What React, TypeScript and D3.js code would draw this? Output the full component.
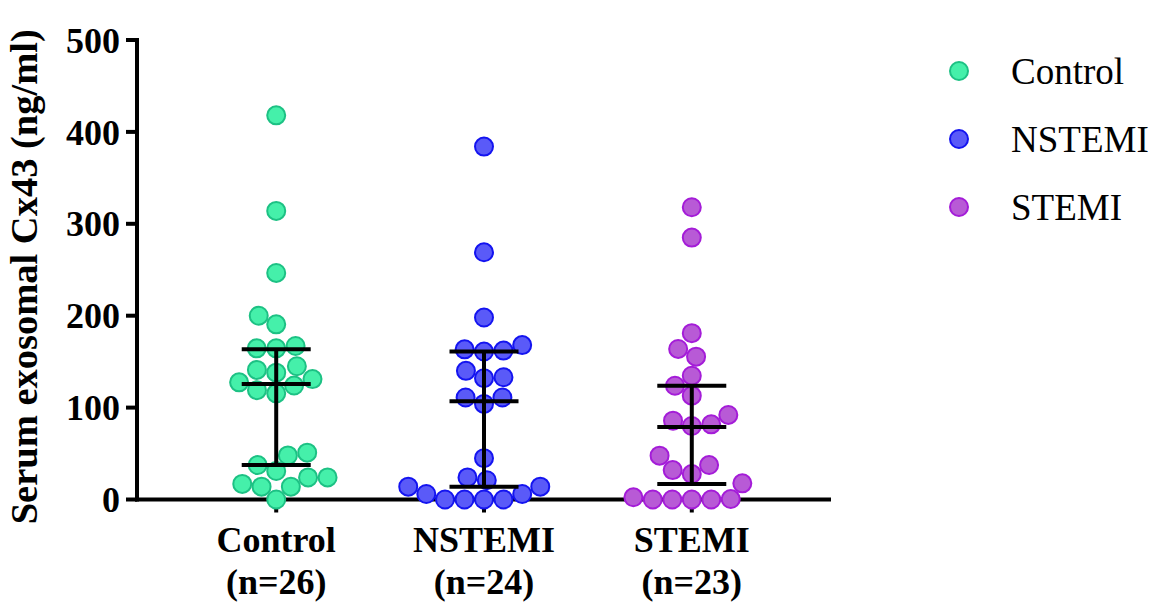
import React from "react"
import * as d3 from "d3"

// Groups and their sample-size labels
const groups = ["Control", "NSTEMI", "STEMI"]
const groupCounts = ["(n=26)", "(n=24)", "(n=23)"]

// Serum exosomal Cx43 values (ng/ml)
const controlValues = [
  418, 314, 246.5, 200, 190.6, 164.5, 164.5, 167, 141, 145, 138, 131, 124, 127.5, 115.5, 119, 51, 48, 37.5, 31,
  24, 24, 14, 14, 17, 0,
]
const nstemiValues = [
  384, 269, 198, 163.4, 161, 162, 168, 140, 133, 132, 111, 104, 111, 45, 21, 24, 14, 14, 6, 6, 0, 0, 0, 0,
]
const stemiValues = [
  318, 285, 181, 155.4, 163.8, 134.7, 123.8, 113, 85.8, 92, 80, 81.8, 37.5, 47.7, 32, 27.7, 17.6, 0.5, 0, 0, 0, 0,
  2.4,
]

// median with interquartile range
const medianValues = [125.7, 107, 79]
const q1Values = [37.5, 14, 17]
const q3Values = [163.5, 161, 123.8]

const yTicks = [0, 100, 200, 300, 400, 500]

const fills = ["#45F0AA", "#5A5AF8", "#B85AD6"]
const strokes = ["#1DC184", "#1414F0", "#A41CD8"]

const width = 1157
const height = 605
const font = "'Liberation Serif', 'Times New Roman', serif"

// greedy beeswarm, lowest values first, each point as close to the centre as it fits
function swarm(values: number[], y: (v: number) => number, d: number) {
  const order = values.map((v, i) => i).sort((a, b) => values[a] - values[b])
  const placed: { x: number; y: number }[] = []
  const out: { x: number; y: number; v: number }[] = new Array(values.length)
  let flip = 1
  for (const i of order) {
    const py = y(values[i])
    const blocks: [number, number][] = []
    for (const p of placed) {
      const dy = Math.abs(p.y - py)
      if (dy < d) {
        const w = Math.sqrt(d * d - dy * dy)
        blocks.push([p.x - w, p.x + w])
      }
    }
    const cands = [0]
    blocks.forEach(([a, b]) => cands.push(a, b))
    const ok = cands.filter((c) => blocks.every(([a, b]) => c <= a + 1e-6 || c >= b - 1e-6))
    ok.sort((a, b) => Math.abs(a) - Math.abs(b) || (a - b) * flip)
    const px = ok[0]
    if (px !== 0) flip = -flip
    placed.push({ x: px, y: py })
    out[i] = { x: px, y: py, v: values[i] }
  }
  return out
}

export default function App() {
  const margin = { left: 137, top: 40, bottom: 499.5, right: 831 }
  const x = d3.scalePoint<string>().domain(groups).range([margin.left, margin.right]).padding(0.67)
  const y = d3.scaleLinear().domain([0, 500]).range([margin.bottom, margin.top])

  const series = [controlValues, nstemiValues, stemiValues]
  const r = 9
  const capHalf = 34.5

  return (
    <svg
      width={width}
      height={height}
      style={{ position: "absolute", left: 0, top: 0, background: "#fff" }}
      fontFamily={font}
    >
      {/* y axis */}
      <line x1={margin.left} x2={margin.left} y1={y(500) - 2} y2={y(0) + 2} stroke="#000" strokeWidth={4} />
      {yTicks.map((t) => (
        <g key={t}>
          <line x1={margin.left - 11} x2={margin.left} y1={y(t)} y2={y(t)} stroke="#000" strokeWidth={4} />
          <text
            x={margin.left - 17}
            y={y(t)}
            dy="0.35em"
            textAnchor="end"
            fontWeight="bold"
            fontSize={36}
          >
            {t}
          </text>
        </g>
      ))}
      <text
        transform={`translate(37, ${(y(0) + y(500)) / 2 + 7}) rotate(-90)`}
        textAnchor="middle"
        fontWeight="bold"
        fontSize={38.5}
      >
        Serum exosomal Cx43 (ng/ml)
      </text>

      {/* x axis */}
      <line x1={margin.left - 2} x2={margin.right} y1={y(0)} y2={y(0)} stroke="#000" strokeWidth={4} />
      {groups.map((g, i) => (
        <g key={g}>
          <line x1={x(g)} x2={x(g)} y1={y(0)} y2={y(0) + 13} stroke="#000" strokeWidth={4} />
          <text x={x(g)} y={552} textAnchor="middle" fontWeight="bold" fontSize={36}>
            {g}
          </text>
          <text x={x(g)} y={594} textAnchor="middle" fontWeight="bold" fontSize={36}>
            {groupCounts[i]}
          </text>
        </g>
      ))}

      {/* points */}
      {series.map((vals, gi) =>
        swarm(vals, y, 19.5).map((p, j) => (
          <circle
            key={`${gi}-${j}`}
            cx={(x(groups[gi]) as number) + p.x}
            cy={p.y}
            r={r}
            fill={fills[gi]}
            stroke={strokes[gi]}
            strokeWidth={2}
          />
        )),
      )}

      {/* median and interquartile range */}
      {groups.map((g, i) => {
        const cx = x(g) as number
        return (
          <g key={`bar-${g}`} stroke="#000" strokeWidth={4}>
            <line x1={cx} x2={cx} y1={y(q3Values[i])} y2={y(q1Values[i])} />
            <line x1={cx - capHalf} x2={cx + capHalf} y1={y(q3Values[i])} y2={y(q3Values[i])} />
            <line x1={cx - capHalf} x2={cx + capHalf} y1={y(medianValues[i])} y2={y(medianValues[i])} />
            <line x1={cx - capHalf} x2={cx + capHalf} y1={y(q1Values[i])} y2={y(q1Values[i])} />
          </g>
        )
      })}

      {/* legend */}
      {groups.map((g, i) => (
        <g key={`leg-${g}`} transform={`translate(959, ${71 + i * 68})`}>
          <circle r={r} fill={fills[i]} stroke={strokes[i]} strokeWidth={2} />
          <text x={52} dy="0.35em" fontSize={37}>
            {g}
          </text>
        </g>
      ))}
    </svg>
  )
}
